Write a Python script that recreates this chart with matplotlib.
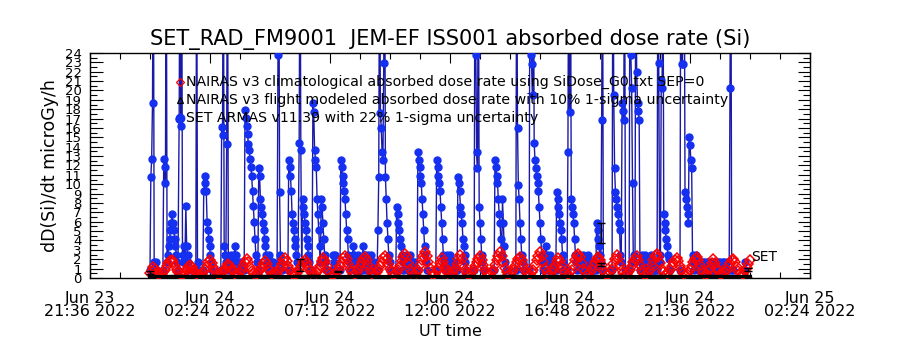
import datetime as dt
import numpy as np
import matplotlib
matplotlib.use("Agg")
import matplotlib.pyplot as plt

# time axis: minutes after 2022-06-24 00:00 UT
T0 = dt.datetime(2022, 6, 24)
XMIN, XMAX = -144, 1584
YMAX = 24

# NAIRAS v3 climatological dose rate, one value every 4 minutes
red_step = 4
red_dose = [
    0.5, 0.8, 1.2, 1.0, 0.6, 0.4, 0.3, 0.4,
    0.6, 0.9, 1.3, 1.6, 1.8, 1.9, 1.7, 1.3, 0.9, 0.6, 0.4, 0.3,
    0.4, 0.6, 0.9, 1.2, 1.4, 1.2, 0.9, 0.6, 0.4, 0.3, 0.3,
    0.4, 0.6, 0.9, 1.3, 1.7, 1.9, 1.6, 1.2, 0.8, 0.5, 0.3,
    0.4, 0.5, 0.7, 1.0, 1.3, 1.5, 1.3, 1.0, 0.7, 0.4, 0.3,
    0.4, 0.6, 0.9, 1.3, 1.7, 2.0, 1.7, 1.2, 0.8, 0.5, 0.3,
    0.4, 0.6, 0.9, 1.2, 1.5, 1.8, 1.5, 1.1, 0.7, 0.4, 0.3,
    0.4, 0.5, 0.8, 1.1, 1.5, 1.9, 2.1, 1.8, 1.3, 0.9, 0.5, 0.3,
    0.4, 0.5, 0.8, 1.1, 1.4, 1.7, 1.9, 1.6, 1.2, 0.8, 0.5, 0.3,
    0.4, 0.6, 0.9, 1.3, 1.8, 2.1, 1.8, 1.3, 0.8, 0.5, 0.3,
    0.3, 0.4, 0.6, 0.9, 1.3, 1.7, 2.1, 2.3, 2.0, 1.5, 1.0, 0.6, 0.3,
    0.4, 0.6, 0.9, 1.3, 1.7, 2.0, 2.2, 1.9, 1.4, 0.9, 0.5, 0.3,
    0.4, 0.6, 0.9, 1.3, 1.7, 2.1, 2.4, 2.0, 1.5, 1.0, 0.6, 0.3,
    0.4, 0.6, 0.9, 1.3, 1.8, 2.2, 2.6, 2.2, 1.6, 1.0, 0.6, 0.3,
    0.4, 0.6, 0.9, 1.4, 1.9, 2.4, 2.8, 2.3, 1.7, 1.1, 0.6, 0.3,
    0.4, 0.7, 1.1, 1.6, 2.1, 1.7, 1.2, 0.8, 0.5, 0.3,
    0.4, 0.6, 1.0, 1.5, 2.0, 2.5, 2.0, 1.4, 0.9, 0.5, 0.3,
    0.4, 0.6, 0.9, 1.3, 1.7, 2.0, 2.3, 1.9, 1.4, 0.9, 0.5, 0.3,
    0.4, 0.6, 0.9, 1.4, 1.9, 2.4, 2.8, 2.3, 1.7, 1.1, 0.6, 0.3,
    0.4, 0.6, 0.9, 1.3, 1.7, 2.0, 2.2, 1.9, 1.4, 0.9, 0.5, 0.3,
    0.4, 0.6, 0.9, 1.4, 1.9, 2.4, 2.8, 2.3, 1.7, 1.1, 0.6, 0.3,
    0.4, 0.6, 1.0, 1.4, 1.8, 2.1, 1.8, 1.3, 0.8, 0.5, 0.3,
    0.4, 0.6, 0.9, 1.4, 1.9, 2.3, 2.6, 2.2, 1.6, 1.0, 0.6, 0.3,
    0.4, 0.6, 0.9, 1.3, 1.7, 2.0, 2.2, 1.9, 1.4, 0.9, 0.5, 0.3,
    0.4, 0.6, 1.0, 1.5, 2.0, 2.5, 2.0, 1.4, 0.9, 0.5, 0.3,
    0.4, 0.6, 0.9, 1.3, 1.7, 2.0, 2.3, 1.9, 1.4, 0.9, 0.5, 0.3,
    0.4, 0.6, 0.9, 1.4, 1.9, 2.3, 2.6, 2.2, 1.6, 1.0, 0.6, 0.3,
    0.4, 0.6, 0.9, 1.3, 1.7, 1.9, 2.1, 1.8, 1.3, 0.9, 0.5, 0.3,
    0.4, 0.6, 0.9, 1.3, 1.7, 2.0, 2.2, 1.9, 1.4, 0.9, 0.5, 0.3,
    0.4, 0.7, 1.1, 1.6, 2.0, 1.6, 1.1, 0.7, 0.4, 0.3,
    0.4, 0.6, 0.9, 1.3, 1.6, 1.9, 2.0, 1.7, 1.2, 0.8, 0.5, 0.3,
    0.4, 0.7, 1.1, 1.5, 1.9,
]

# NAIRAS v3 flight modeled dose rate, every 30 minutes
black_step = 30
black_dose = [
    0.12, 0.10, 0.13, 0.11, 0.10, 0.14, 0.12, 0.10, 0.11, 0.13,
    0.12, 0.10, 0.12, 0.14, 0.11, 0.10, 0.12, 0.13, 0.11, 0.10,
    0.12, 0.14, 0.12, 0.10, 0.11, 0.13, 0.12, 0.10, 0.12, 0.14,
    0.11, 0.10, 0.12, 0.13, 0.11, 0.10, 0.12, 0.14, 0.12, 0.10,
    0.11, 0.13, 0.12, 0.10, 0.12, 0.13, 0.11, 0.10, 0.12,
]

# SET ARMAS v11.39 dose rate: start of each pass (min) and its 2-minute samples
blue_step = 2
blue_start = [0, 31, 70, 110, 127, 170, 192, 226, 259, 284, 305, 331, 358,
              389, 437, 456, 484, 509, 521, 545, 590, 612, 641, 686, 710,
              737, 778, 826, 878, 910, 946, 974, 1001, 1028, 1070, 1109,
              1150, 1178, 1217, 1272, 1308, 1390, 1425]
blue_vals = [
    [0.9, 10.8, 12.7, 18.7, 40, 1.7, 0.9, 1.7, 0.9],
    [0.9, 12.7, 11.8, 10.1, 40, 1.7, 2.5, 3.4, 4.2, 5.1, 5.9, 6.8, 5.9, 5.1,
     4.2, 3.4, 2.5, 1.7, 0.9],
    [17.0, 40, 16.2, 40, 1.7, 2.5, 3.4, 2.5, 7.7, 3.4, 2.5, 1.7, 0.9],
    [0.9, 40, 0.9, 1.7, 0.9],
    [0.9, 9.3, 10.1, 10.9, 9.3, 6.0, 5.1, 4.2, 3.4, 2.5, 1.7, 0.9],
    [0.9, 16.1, 15.3, 40, 3.4, 2.5, 1.7, 14.3, 40, 0.9],
    [1.7, 2.5, 1.7, 0.9, 1.7, 2.5, 3.4, 2.5, 1.7, 0.9, 1.7, 0.9, 0.9, 1.7,
     0.9],
    [0.9, 17.9, 17.1, 16.2, 15.4, 14.3, 13.6, 12.7, 11.8, 10.9, 9.3, 7.7,
     6.0, 4.2, 2.5, 1.7, 0.9],
    [1.7, 11.7, 10.9, 8.4, 7.6, 6.8, 5.9, 5.1, 4.2, 3.4, 2.5, 1.7, 0.9],
    [1.7, 2.5, 1.7, 0.9, 1.7, 0.9, 1.7, 0.9],
    [0.9, 23.8, 40, 9.2, 2.5, 1.7, 0.9],
    [0.9, 12.6, 11.8, 10.9, 9.3, 6.8, 5.9, 5.1, 4.2, 3.4, 2.5, 1.7, 0.9],
    [14.4, 40, 13.7, 1.7, 8.4, 7.6, 6.8, 5.9, 5.1, 4.2, 3.4, 2.5, 1.7, 0.9],
    [0.9, 18.7, 17.7, 13.7, 12.6, 11.8, 8.4, 6.8, 5.1, 3.4, 1.7, 8.4, 7.6,
     5.9, 4.2, 2.5, 1.7, 0.9],
    [0.9, 2.5, 1.7, 2.5, 0.9],
    [0.9, 12.6, 11.8, 10.9, 10.1, 9.3, 8.4, 6.8, 5.1, 4.2, 2.5, 1.7, 0.9],
    [1.7, 2.5, 3.4, 2.5, 1.7, 0.9, 1.7, 2.5, 1.7, 0.9, 0.9, 1.7],
    [0.9, 3.4, 2.5, 2.5, 1.7, 0.9],
    [1.7, 2.5, 1.7, 0.9, 1.7, 2.5, 1.7, 0.9, 1.7, 0.9],
    [0.9, 5.1, 10.8, 40, 17.6, 16.0, 13.4, 12.6, 22.9, 40, 10.8, 8.4, 5.9,
     4.2, 2.5, 1.7, 0.9],
    [0.9, 7.6, 6.8, 5.9, 5.1, 4.2, 3.4, 2.5, 1.7, 0.9],
    [1.7, 2.5, 1.7, 0.9, 1.7, 0.9, 2.5, 1.7, 0.9, 1.7, 0.9, 1.7, 0.9],
    [0.9, 13.4, 12.6, 11.8, 10.9, 10.1, 8.4, 6.8, 5.1, 3.4, 2.5, 1.7, 0.9],
    [0.9, 12.6, 11.8, 10.9, 10.1, 9.3, 7.6, 5.9, 4.2, 2.5, 1.7, 0.9],
    [1.7, 2.5, 1.7, 0.9, 1.7, 2.5, 1.7, 0.9, 1.7, 0.9, 1.7, 0.9],
    [0.9, 10.8, 10.1, 9.3, 7.6, 6.8, 5.9, 4.2, 3.4, 2.5, 1.7, 0.9],
    [0.9, 40, 23.8, 13.4, 11.7, 40, 7.6, 5.9, 4.2, 2.5, 1.7, 0.9],
    [0.9, 12.6, 11.8, 10.9, 10.1, 8.4, 6.8, 5.9, 4.2, 2.5, 8.4, 5.9, 3.4,
     1.7, 0.9],
    [0.9, 40, 16.0, 9.9, 8.4, 5.9, 4.2, 2.5, 1.7, 0.9],
    [0.9, 40, 23.8, 22.8, 19.5, 40, 14.4, 12.6, 11.7, 10.9, 10.1, 9.3, 7.6,
     5.9, 4.2, 2.5, 1.7, 0.9],
    [1.7, 2.5, 3.4, 2.5, 1.7, 0.9, 1.7, 2.5, 1.7, 0.9, 1.7, 0.9],
    [0.9, 9.2, 8.4, 7.6, 6.8, 5.9, 5.1, 4.2, 2.5, 1.7, 0.9],
    [0.9, 13.4, 40, 17.7, 40, 8.4, 7.6, 6.8, 5.9, 4.2, 2.5, 1.7, 0.9],
    [1.7, 2.5, 1.7, 0.9, 1.7, 2.5, 1.7, 0.9, 1.7, 0.9, 1.7, 2.5, 1.7, 0.9,
     1.7, 0.9, 1.7, 0.9, 0.9, 1.7],
    [0.9, 5.9, 5.1, 4.2, 3.4, 2.5, 1.7, 16.9, 40, 0.9],
    [0.9, 40, 19.5, 11.7, 9.2, 8.4, 7.6, 6.8, 5.9, 5.1, 2.5, 1.7, 18.7,
     17.8, 16.9, 40, 0.9],
    [0.9, 40, 23.8, 20.3, 10.1, 1.7, 2.5, 1.7, 40, 22.0, 18.7, 17.8, 16.9,
     0.9],
    [1.7, 2.5, 1.7, 0.9, 1.7, 2.5, 1.7, 0.9, 1.7, 0.9, 1.7, 0.9, 2.5, 1.7,
     0.9, 1.7, 0.9, 0.9],
    [0.9, 40, 22.9, 2.5, 1.7, 21.1, 20.3, 40, 6.8, 5.9, 5.1, 4.2, 3.4, 2.5,
     2.0, 0.9],
    [0.9, 40, 22.8, 22.8, 40, 40, 9.2, 8.4, 7.6, 6.8, 5.9, 15.0, 14.2, 12.6,
     11.7, 2.5, 1.7, 0.9],
    [1.7, 2.5, 1.7, 0.9, 1.7, 0.9, 1.7, 0.9, 0.9, 1.7, 0.9, 1.7, 0.9, 0.9,
     1.7, 0.9, 1.7, 0.9, 0.9, 1.7, 0.9, 1.7, 0.9, 0.9, 1.7, 0.9, 0.9, 1.7,
     0.9, 0.9, 1.7, 0.9, 0.9, 1.7, 0.9, 1.7, 0.9, 0.9, 1.7, 0.9],
    [0.9, 20.3, 40, 0.9, 0.9],
    [0.9, 1.7, 0.9],
]

# sample uncertainty bars (time, value, half-width)
err_t = [0, 360, 450, 1082, 1082, 1435]
err_v = [0.6, 1.4, 0.7, 4.8, 1.4, 0.9]
err_e = [0.15, 0.6, 0.1, 1.1, 0.15, 0.15]

tick_min = [XMIN + 288 * k for k in range(7)]

legend_text = [
    "NAIRAS v3 climatological absorbed dose rate using SiDose_G0.txt SEP=0",
    "NAIRAS v3 flight modeled absorbed dose rate with 10% 1-sigma uncertainty",
    "SET ARMAS v11.39 with 22% 1-sigma uncertainty",
]

plt.rcParams["font.family"] = ["DejaVu Sans"]

fig = plt.figure(figsize=(9, 3.5), dpi=100)
ax = fig.add_axes([0.1, 0.2057, 0.8, 0.643])

blue_line = "#1a1aa8"
blue_dot = "#1530f0"

bt, bv = [], []
for t0, vals in sorted(zip(blue_start, blue_vals)):
    for i, v in enumerate(vals):
        bt.append(t0 + blue_step * i)
        bv.append(v)
ax.plot(bt, bv, color=blue_line, lw=1.0, zorder=2)
ax.plot(bt, bv, ls="none", marker="o", ms=5, color=blue_dot, mec=blue_dot,
        zorder=3)

rt = red_step * np.arange(len(red_dose))
ax.plot(rt, red_dose, ls="none", marker="D", ms=5.5, mfc="none", mec="red",
        mew=1.1, zorder=4)

kt = black_step * np.arange(len(black_dose))
ax.plot(kt, black_dose, color="black", lw=3, marker="^", ms=3, zorder=5)

ax.errorbar(err_t, err_v, yerr=err_e, fmt="none", ecolor="black", elinewidth=1,
            capsize=3, zorder=6)

ax.set_xlim(XMIN, XMAX)
ax.set_ylim(0, YMAX)

ax.set_xticks(tick_min)
ax.set_xticklabels([(T0 + dt.timedelta(minutes=m)).strftime("%b %d\n%H:%M %Y")
                    for m in tick_min], linespacing=0.85)
ax.set_xticks(np.arange(XMIN, XMAX + 1, 72), minor=True)
ax.set_yticks(np.arange(0, YMAX + 1, 1))
ax.set_yticks(np.arange(0, YMAX, 0.5), minor=True)

ax.tick_params(axis="both", which="both", direction="in", top=True,
               right=True, width=0.8, color="black")
ax.tick_params(axis="x", which="major", length=7, labelsize=11.5, pad=9)
ax.tick_params(axis="x", which="minor", length=4)
ax.tick_params(axis="y", which="major", length=9, labelsize=9.5, pad=6)
ax.tick_params(axis="y", which="minor", length=5)
for s in ax.spines.values():
    s.set_linewidth(1.0)

ax.set_xlabel("UT time", fontsize=11.5, labelpad=4)
ax.set_ylabel("dD(Si)/dt microGy/h", fontsize=12.5, labelpad=4)
ax.set_title("SET_RAD_FM9001  JEM-EF ISS001 absorbed dose rate (Si)",
             fontsize=15, pad=6)

# legend drawn by hand, IDL style
leg_y = [0.871, 0.791, 0.711]
leg_mk = [dict(marker="D", ms=4, mfc="none", mec="red", mew=0.9),
          dict(marker="^", ms=5, mfc="none", mec="black", mew=0.9),
          dict(marker="o", ms=6, color=blue_dot)]
for y, txt, mk in zip(leg_y, legend_text, leg_mk):
    ax.plot([0.125], [y], transform=ax.transAxes, ls="none", zorder=7, **mk)
    ax.text(0.133, y, txt, transform=ax.transAxes, fontsize=10.2,
            va="center", ha="left", zorder=7)

ax.text(0.918, 0.092, "SET", transform=ax.transAxes, fontsize=10,
        va="center", ha="left", zorder=7)

fig.savefig("out.png", dpi=100)
